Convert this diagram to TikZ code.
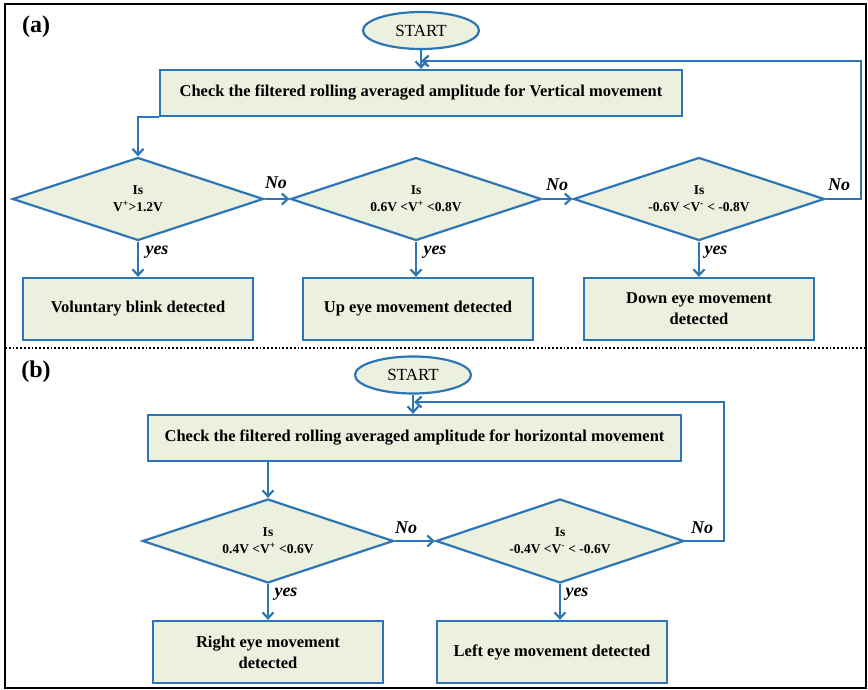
\documentclass[tikz,border=0pt]{standalone}
\usepackage{fontspec}
\setmainfont{Liberation Serif}
\usetikzlibrary{shapes.geometric,arrows.meta}
\definecolor{lnblue}{RGB}{46,117,182}
\definecolor{boxfill}{RGB}{235,241,222}
\tikzset{
  startel/.style={ellipse, draw=lnblue, fill=boxfill, line width=2.2pt, minimum width=116pt, minimum height=37pt, inner sep=0pt, font=\fontsize{17}{18}\selectfont},
  procbox/.style={rectangle, draw=lnblue, fill=boxfill, line width=2.2pt, inner sep=0pt, align=center, font=\bfseries\fontsize{16.5}{21}\selectfont},
  decis/.style={diamond, draw=lnblue, fill=boxfill, line width=2.2pt, inner sep=0pt, minimum width=251pt, minimum height=83pt},
  dtext/.style={align=center, inner sep=0pt, font=\bfseries\fontsize{13.5}{17}\selectfont},
  arr/.style={draw=lnblue, line width=2.2pt, -{Straight Barb[length=6pt,width=11pt]}},
  lbl/.style={font=\bfseries\itshape\fontsize{18}{20}\selectfont, inner sep=1pt},
  panel/.style={font=\bfseries\fontsize{24}{26}\selectfont}
}
\begin{document}
\begin{tikzpicture}[x=1pt,y=-1pt]
\useasboundingbox (0,0) rectangle (868,690);
\fill[white] (0,0) rectangle (868,690);
\draw[black, line width=1.8pt] (5,4) rectangle (866,688);
\draw[black, line width=1.8pt, dotted] (5,348) -- (866,348);

% ---------- panel (a) ----------
\node[panel] (pa) at (36,27) {(a)};
\node[startel] (sa) at (421,30.5) {START};
\node[procbox, minimum width=522pt, minimum height=46pt] (ca) at (421,93) {Check the filtered rolling averaged amplitude for Vertical movement};
\node[decis] (a1) at (138,199) {};
\node[decis] (a2) at (416,199) {};
\node[decis] (a3) at (699,199) {};
\node[dtext] (ta1) at (a1) {Is\\V\textsuperscript{+}>1.2V};
\node[dtext] (ta2) at (a2) {Is\\0.6V <V\textsuperscript{+} <0.8V};
\node[dtext] (ta3) at (a3) {Is\\-0.6V <V\textsuperscript{-} < -0.8V};
\node[procbox, minimum width=230pt, minimum height=62pt] (ra1) at (138,309) {Voluntary blink detected};
\node[procbox, minimum width=230pt, minimum height=62pt] (ra2) at (418,309) {Up eye movement detected};
\node[procbox, minimum width=230pt, minimum height=62pt] (ra3) at (699,309) {Down eye movement\\detected};

\coordinate (ja) at (421,61);
\coordinate (ka) at (861,61);
\draw[arr] (sa.south) -- (sa.south |- ca.north);
\draw[arr] (ca.south west) -| (a1.north);
\draw[arr] (a1.east) -- (a2.west);
\draw[arr] (a2.east) -- (a3.west);
\draw[arr] (a3.east) -| (ka) -- (ja);
\draw[arr] (a1.south) -- (ra1.north);
\draw[arr] (a2.south) -- (a2.south |- ra2.north);
\draw[arr] (a3.south) -- (ra3.north);
\node[lbl] (na1) at (276,183) {No};
\node[lbl] (na2) at (557,185) {No};
\node[lbl] (na3) at (839,185) {No};
\node[lbl] (ya1) at (157,252) {yes};
\node[lbl] (ya2) at (435,252) {yes};
\node[lbl] (ya3) at (716,252) {yes};

% ---------- panel (b) ----------
\node[panel] (pb) at (36,372) {(b)};
\node[startel] (sb) at (413,375) {START};
\node[procbox, minimum width=533pt, minimum height=46pt] (cb) at (414.5,438) {Check the filtered rolling averaged amplitude for horizontal movement};
\node[decis, minimum height=84pt] (b1) at (268,541) {};
\node[decis, minimum width=248pt, minimum height=84pt] (b2) at (560,541) {};
\node[dtext] (tb1) at (b1) {Is\\0.4V <V\textsuperscript{+} <0.6V};
\node[dtext] (tb2) at (b2) {Is\\-0.4V <V\textsuperscript{-} < -0.6V};
\node[procbox, minimum width=230pt, minimum height=62pt] (rb1) at (268,652) {Right eye movement\\detected};
\node[procbox, minimum width=230pt, minimum height=62pt] (rb2) at (552,652) {Left eye movement detected};

\coordinate (jb) at (414,402);
\coordinate (kb) at (724,402);
\draw[arr] (sb.south) -- (sb.south |- cb.north);
\draw[arr] (cb.south -| b1.north) -- (b1.north);
\draw[arr] (b1.east) -- (b2.west);
\draw[arr] (b2.east) -| (kb) -- (jb);
\draw[arr] (b1.south) -- (rb1.north);
\draw[arr] (b2.south) -- (b2.south |- rb2.north);
\node[lbl] (nb1) at (406,528) {No};
\node[lbl] (nb2) at (702,528) {No};
\node[lbl] (yb1) at (286,594) {yes};
\node[lbl] (yb2) at (577,594) {yes};
\end{tikzpicture}
\end{document}
